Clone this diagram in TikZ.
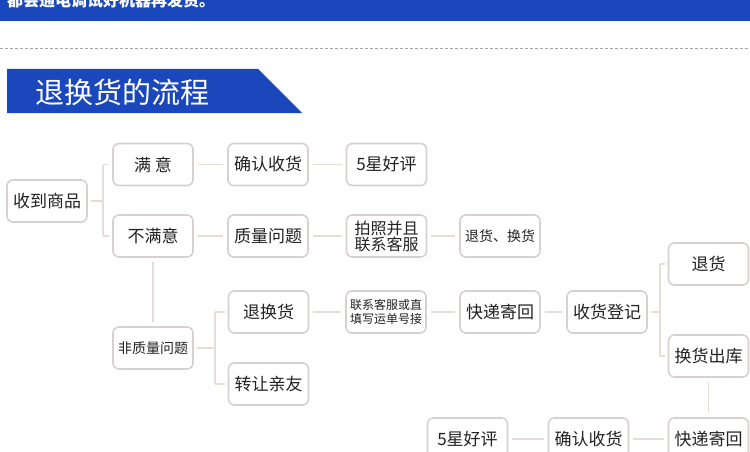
\documentclass[tikz,border=0pt]{standalone}
\usepackage{fontspec}
\setmainfont{Noto Sans CJK SC}
\newfontfamily\cjk{Noto Sans CJK SC}
\definecolor{bannerblue}{HTML}{1A47BB}
\definecolor{boxline}{HTML}{D8CFCF}
\definecolor{connline}{HTML}{E6DDD5}
\definecolor{txt}{HTML}{222222}
\tikzset{
  stepbox/.style={draw=boxline, line width=1.6pt, rounded corners=6pt, fill=white,
    minimum width=80pt, minimum height=42pt, inner sep=0pt, text=txt,
    font=\cjk\fontsize{17}{19}\selectfont, align=center},
  smallbox/.style={stepbox, font=\cjk\fontsize{14}{16}\selectfont},
  tinybox/.style={stepbox, font=\cjk\fontsize{12}{14}\selectfont},
  twobox/.style={stepbox, font=\cjk\fontsize{16}{16}\selectfont},
  conn/.style={draw=connline, line width=1.5pt},
}
\begin{document}
\begin{tikzpicture}[x=1pt,y=-1pt]
\useasboundingbox (0,0) rectangle (750,452);
\clip (0,0) rectangle (750,452);
% top banner
\fill[bannerblue] (0,-5) rectangle (750,21);
\node[anchor=base west, inner sep=0pt, text=white, font=\cjk\bfseries\fontsize{16}{16}\selectfont] (bantext) at (7,7) {都会通电调试好机器再发货。};
% dashed separator
\coordinate (dl) at (0,48);
\coordinate (dr) at (750,48);
\draw[gray!70, line width=0.8pt, dash pattern=on 3pt off 2pt] (dl) -- (dr);
% title ribbon
\fill[bannerblue] (7,69) -- (258,69) -- (302,113) -- (7,113) -- cycle;
\node[anchor=west, inner sep=0pt, text=white, font=\cjk\fontsize{29}{30}\selectfont] (title) at (35,92) {退换货的流程};
% nodes
\node[stepbox] (recv) at (47,201) {收到商品};
\node[stepbox] (ok) at (153,164.5) {满 意};
\node[stepbox] (nok) at (153,236) {不满意};
\node[stepbox] (conf1) at (268,164.5) {确认收货};
\node[stepbox] (qual) at (268,236) {质量问题};
\node[stepbox] (star1) at (386.5,164.5) {5星好评};
\node[twobox] (photo) at (386.5,236) {拍照并且\\联系客服};
\node[smallbox] (retex) at (500,236) {退货、换货};
\node[smallbox] (nq) at (153,348) {非质量问题};
\node[stepbox] (tui) at (268.5,312) {退换货};
\node[stepbox] (gift) at (268.5,384) {转让亲友};
\node[tinybox] (contact) at (386,312) {联系客服或直\\填写运单号接};
\node[stepbox] (ship1) at (500,312) {快递寄回};
\node[stepbox] (reg) at (607,312) {收货登记};
\node[stepbox] (ret) at (708.5,264) {退货};
\node[stepbox] (exch) at (708.5,356) {换货出库};
\node[stepbox] (ship2) at (708.5,439) {快递寄回};
\node[stepbox] (conf2) at (588.5,439) {确认收货};
\node[stepbox] (star2) at (467.5,439) {5星好评};
% junctions
\coordinate (j1) at (103,201);
\coordinate (j2) at (215,348);
\coordinate (j3) at (660,312);
% tree from recv
\draw[conn, shorten <=3pt] (recv.east) -- (j1);
\draw[conn] (j1 |- ok) -- (j1 |- nok);
\draw[conn, shorten >=3pt] (j1 |- ok) -- (ok.west);
\draw[conn, shorten >=3pt] (j1 |- nok) -- (nok.west);
% rows
\draw[conn, shorten <=4pt, shorten >=4pt] (ok) -- (conf1);
\draw[conn, shorten <=4pt, shorten >=4pt] (conf1) -- (star1);
\draw[conn, shorten <=4pt, shorten >=4pt] (nok) -- (qual);
\draw[conn, shorten <=4pt, shorten >=4pt] (qual) -- (photo);
\draw[conn, shorten <=4pt, shorten >=4pt] (photo) -- (retex);
\draw[conn, shorten <=4pt, shorten >=4pt] (nok.south) -- (nok.south |- nq.north);
% tree from nq
\draw[conn, shorten <=3pt] (nq.east) -- (j2);
\draw[conn] (j2 |- tui) -- (j2 |- gift);
\draw[conn, shorten >=3pt] (j2 |- tui) -- (tui.west);
\draw[conn, shorten >=3pt] (j2 |- gift) -- (gift.west);
\draw[conn, shorten <=4pt, shorten >=4pt] (tui) -- (contact);
\draw[conn, shorten <=4pt, shorten >=4pt] (contact) -- (ship1);
\draw[conn, shorten <=4pt, shorten >=4pt] (ship1) -- (reg);
% tree from reg
\draw[conn, shorten <=3pt] (reg.east) -- (j3);
\draw[conn] (j3 |- ret) -- (j3 |- exch);
\draw[conn, shorten >=3pt] (j3 |- ret) -- (ret.west);
\draw[conn, shorten >=3pt] (j3 |- exch) -- (exch.west);
\draw[conn, shorten <=4pt, shorten >=4pt] (exch.south) -- (ship2.north);
\draw[conn, shorten <=4pt, shorten >=4pt] (ship2) -- (conf2);
\draw[conn, shorten <=4pt, shorten >=4pt] (conf2) -- (star2);
\end{tikzpicture}
\end{document}
